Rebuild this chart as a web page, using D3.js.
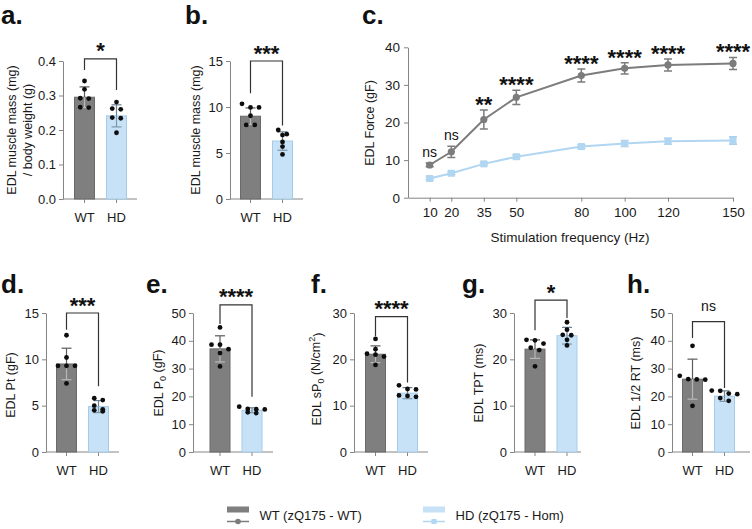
<!DOCTYPE html>
<html><head><meta charset="utf-8">
<script src="https://cdn.jsdelivr.net/npm/d3@7"></script>
<style>body{margin:0;background:#fff} text{font-family:"Liberation Sans",Arial,Helvetica,sans-serif}</style>
</head><body><svg id="chart" width="752" height="529"></svg>
<script>
// ---------------- DATA ----------------
const categories = ["WT", "HD"];
const legendLabels = ["WT (zQ175 - WT)", "HD (zQ175 - Hom)"];

// a. EDL muscle mass / body weight
const aMeans = [0.295, 0.241];
const aErr = [0.030, 0.032];
const aWT = [0.342, 0.318, 0.292, 0.291, 0.266, 0.265];
const aHD = [0.281, 0.262, 0.260, 0.236, 0.234, 0.192];
const aTicks = [0, 0.1, 0.2, 0.3, 0.4];
const aSig = "*";
const aBracket = [0.406, 0.374, 0.316];

// b. EDL muscle mass
const bMeans = [9.0, 6.3];
const bErr = [0.9, 1.0];
const bWT = [10.35, 9.95, 9.95, 9.05, 8.05, 8.05];
const bHD = [7.5, 7.05, 6.95, 6.2, 5.7, 4.85];
const bTicks = [0, 5, 10, 15];
const bSig = "***";
const bBracket = [15.0, 11.5, 8.0];

// c. force-frequency
const freqs = [10, 20, 35, 50, 80, 100, 120, 150];
const forceWT = [8.7, 12.2, 20.8, 26.7, 32.5, 34.4, 35.3, 35.7];
const forceWTErr = [0.5, 1.5, 2.5, 1.9, 1.7, 1.5, 1.6, 1.6];
const forceHD = [5.1, 6.5, 9.0, 10.9, 13.6, 14.4, 15.0, 15.2];
const forceHDErr = [0.4, 0.4, 0.4, 0.5, 0.5, 0.8, 0.8, 1.0];
const forceSig = ["ns", "ns", "**", "****", "****", "****", "****", "****"];
const forceTicks = [0, 10, 20, 30, 40];

// d. Pt
const dMeans = [9.5, 4.9];
const dErr = [1.7, 0.65];
const dWT = [12.6, 10.2, 9.3, 9.3, 9.3, 7.4];
const dHD = [5.8, 5.6, 5.0, 4.6, 4.5, 4.4];
const dTicks = [0, 5, 10, 15];
const dSig = "***";
const dBracket = [15.0, 13.2, 7.1];

// e. P0
const eMeans = [37.1, 15.0];
const eErr = [4.7, 0.9];
const eWT = [44.8, 38.6, 38.6, 37.0, 35.6, 30.8];
const eHD = [16.3, 15.5, 15.4, 15.3, 14.3, 14.0];
const eTicks = [0, 10, 20, 30, 40, 50];
const eSig = "****";
const eBracket = [52.9, 46.0, 19.9];

// f. sP0
const fMeans = [21.1, 12.7];
const fErr = [1.8, 1.2];
const fWT = [24.4, 22.2, 21.2, 21.0, 20.6, 18.8];
const fHD = [14.4, 13.6, 13.5, 12.2, 12.1, 11.9];
const fTicks = [0, 10, 20, 30];
const fSig = "****";
const fBracket = [29.2, 25.0, 15.0];

// g. TPT
const gMeans = [22.2, 25.1];
const gErr = [2.0, 1.8];
const gWT = [24.2, 24.1, 23.4, 22.5, 22.0, 18.5];
const gHD = [28.0, 26.4, 25.3, 25.2, 24.2, 23.0];
const gTicks = [0, 10, 20, 30];
const gSig = "*";
const gBracket = [32.8, 26.3, 28.9];

// h. 1/2 RT
const hMeans = [26.2, 20.1];
const hErr = [7.2, 1.9];
const hWT = [38.2, 27.4, 26.2, 26.1, 26.0, 16.6];
const hHD = [22.1, 22.0, 21.0, 20.8, 19.4, 18.4];
const hTicks = [0, 10, 20, 30, 40, 50];
const hSig = "ns";
const hBracket = [46.9, 41.0, 23.0];

// ---------------- STYLE ----------------
const C = {
  wtFill: "#7f7f7f", wtStroke: "#6a6a6a",
  hdFill: "#c7e2f7", hdStroke: "#a6cbe8",
  wtLine: "#7c7c7c", hdLine: "#b1d6f1",
  axis: "#858585", text: "#1a1a1a", bracket: "#333"
};
const svg = d3.select("#chart");

function panelTitle(t, x, y, size) {
  svg.append("text").attr("x", x).attr("y", y).attr("font-size", size).attr("font-weight", "bold")
    .attr("fill", "#111").text(t);
}
function yLabel(parts, cx, cy, size) {
  const t = svg.append("text").attr("transform", `translate(${cx},${cy}) rotate(-90)`)
    .attr("text-anchor", "middle").attr("dy", "0.36em").attr("font-size", size || 12.5).attr("fill", C.text);
  parts.forEach(p => {
    const ts = t.append("tspan").text(p.t);
    if (p.sub) ts.attr("font-size", 9).attr("dy", "0.35em");
    if (p.sup) ts.attr("font-size", 9).attr("dy", "-0.5em");
    if (p.after) ts.attr("dy", p.after);
  });
}
function sigText(g, txt, x, yBase) {
  const isStar = txt.indexOf("*") >= 0;
  g.append("text").attr("x", x).attr("y", isStar ? yBase + 0.5 : yBase - 10)
    .attr("text-anchor", "middle").attr("font-size", isStar ? 22 : 14)
    .attr("font-weight", isStar ? "bold" : "normal").attr("fill", "#111").text(txt);
}
function swarm(vals, y, cx) {
  const sorted = vals.slice().sort((a, b) => b - a);
  const rows = [];
  sorted.forEach(v => {
    const py = y(v);
    const r = rows.find(r => Math.abs(r.py - py) < 4.5);
    if (r) r.items.push(v); else rows.push({ py, items: [v] });
  });
  const out = [];
  rows.forEach(r => r.items.forEach((v, i) => out.push({ x: cx + (i - (r.items.length - 1) / 2) * 8.5, y: y(v) })));
  return out;
}

function barPanel(L, D) {
  const g = svg.append("g");
  const y = d3.scaleLinear().domain([0, D.ticks[D.ticks.length - 1]]).range([L.yb, L.yt]);
  const x = d3.scaleBand().domain(categories).range([L.bs, L.bs + 53]).paddingInner(11 / 32).paddingOuter(0);
  const bw = x.bandwidth();
  const ya = g.append("g").attr("transform", `translate(${L.x0},0)`)
    .call(d3.axisLeft(y).tickValues(D.ticks).tickSize(4).tickSizeOuter(0).tickPadding(3).tickFormat(D.fmt || d3.format("d")));
  ya.selectAll("path,line").attr("stroke", C.axis);
  ya.selectAll("text").attr("font-size", 13).attr("fill", C.text).style("font-family", "Liberation Sans, Arial");
  const xa = g.append("g").attr("transform", `translate(0,${L.yb})`)
    .call(d3.axisBottom(x).tickSize(4).tickSizeOuter(0).tickPadding(9.5));
  xa.select(".domain").remove();
  xa.selectAll("line").attr("stroke", C.axis);
  xa.selectAll("text").attr("font-size", 13).attr("fill", C.text).style("font-family", "Liberation Sans, Arial");
  g.append("line").attr("x1", L.x0).attr("x2", L.x1).attr("y1", L.yb).attr("y2", L.yb).attr("stroke", C.axis);
  categories.forEach((c, i) => {
    g.append("rect").attr("x", x(c) + 0.5).attr("y", y(D.means[i])).attr("width", bw - 1)
      .attr("height", L.yb - y(D.means[i]))
      .attr("fill", i === 0 ? C.wtFill : C.hdFill).attr("stroke", i === 0 ? C.wtStroke : C.hdStroke).attr("stroke-width", 1);
  });
  categories.forEach((c, i) => {
    const cx = x(c) + bw / 2;
    const top = y(D.means[i] + D.errs[i]), mid = y(D.means[i]), bot = y(D.means[i] - D.errs[i]);
    const upCol = i === 0 ? "#5a5a5a" : "#6a7f90";
    const dnCol = i === 0 ? "#b8b8b8" : "#7f96a8";
    g.append("line").attr("x1", cx).attr("x2", cx).attr("y1", top).attr("y2", mid).attr("stroke", upCol).attr("stroke-width", 1.2);
    g.append("line").attr("x1", cx - 5).attr("x2", cx + 5).attr("y1", top).attr("y2", top).attr("stroke", upCol).attr("stroke-width", 1.2);
    g.append("line").attr("x1", cx).attr("x2", cx).attr("y1", mid).attr("y2", bot).attr("stroke", dnCol).attr("stroke-width", 1.2);
    g.append("line").attr("x1", cx - 5).attr("x2", cx + 5).attr("y1", bot).attr("y2", bot).attr("stroke", dnCol).attr("stroke-width", 1.2);
  });
  D.pts.forEach((arr, i) => {
    const cx = x(categories[i]) + bw / 2;
    swarm(arr, y, cx).forEach(p => g.append("circle").attr("cx", p.x).attr("cy", p.y).attr("r", 2.4).attr("fill", "#0d0d0d"));
  });
  const xw = x("WT") + bw / 2, xh = x("HD") + bw / 2;
  g.append("path").attr("d", `M${xw},${y(D.bracket[1])}V${y(D.bracket[0])}H${xh}V${y(D.bracket[2])}`)
    .attr("fill", "none").attr("stroke", C.bracket).attr("stroke-width", 1.2);
  sigText(g, D.sig, (xw + xh) / 2, y(D.bracket[0]) - 1);
}

// ---------------- PANELS ----------------
panelTitle("a.", 1, 23.5, 26);
barPanel({ x0: 63, x1: 137, bs: 74, yt: 61, yb: 199 },
  { means: aMeans, errs: aErr, pts: [aWT, aHD], ticks: aTicks, fmt: d3.format(".1f"), sig: aSig, bracket: aBracket });
yLabel([{ t: "EDL muscle mass (mg)" }], 11, 130);
yLabel([{ t: "/ body weight (g)" }], 27, 130);

panelTitle("b.", 185, 23.5, 26);
barPanel({ x0: 230, x1: 303, bs: 240, yt: 61, yb: 199 },
  { means: bMeans, errs: bErr, pts: [bWT, bHD], ticks: bTicks, sig: bSig, bracket: bBracket });
yLabel([{ t: "EDL muscle mass (mg)" }], 195, 130);

panelTitle("d.", 1, 293, 26);
barPanel({ x0: 46, x1: 119, bs: 56, yt: 313, yb: 452 },
  { means: dMeans, errs: dErr, pts: [dWT, dHD], ticks: dTicks, sig: dSig, bracket: dBracket });
yLabel([{ t: "EDL Pt (gF)" }], 10, 385);

panelTitle("e.", 146, 293, 26);
barPanel({ x0: 193, x1: 273, bs: 209.5, yt: 313, yb: 452 },
  { means: eMeans, errs: eErr, pts: [eWT, eHD], ticks: eTicks, sig: eSig, bracket: eBracket });
yLabel([{ t: "EDL P" }, { t: "0", sub: true }, { t: " (gF)", after: "-0.3em" }], 158, 383);

panelTitle("f.", 311, 293, 26);
barPanel({ x0: 354, x1: 428, bs: 365, yt: 313, yb: 452 },
  { means: fMeans, errs: fErr, pts: [fWT, fHD], ticks: fTicks, sig: fSig, bracket: fBracket });
yLabel([{ t: "EDL sP" }, { t: "0", sub: true }, { t: " (N/cm", after: "-0.3em" }, { t: "2", sup: true }, { t: ")", after: "0.5em" }], 316, 379);

panelTitle("g.", 462, 293, 26);
barPanel({ x0: 514, x1: 581, bs: 524.5, yt: 313, yb: 452 },
  { means: gMeans, errs: gErr, pts: [gWT, gHD], ticks: gTicks, sig: gSig, bracket: gBracket });
yLabel([{ t: "EDL TPT (ms)" }], 478, 383);

panelTitle("h.", 627, 293, 26);
barPanel({ x0: 672, x1: 750, bs: 682, yt: 313, yb: 452 },
  { means: hMeans, errs: hErr, pts: [hWT, hHD], ticks: hTicks, sig: hSig, bracket: hBracket });
yLabel([{ t: "EDL 1/2 RT (ms)" }], 635, 383);

// ---------------- PANEL C ----------------
panelTitle("c.", 362, 23.5, 26);
(function () {
  const g = svg.append("g");
  const x = d3.scaleLinear().domain([0, 150]).range([408, 733]);
  const y = d3.scaleLinear().domain([0, 40]).range([197.7, 47.3]);
  const ya = g.append("g").attr("transform", "translate(408,0)")
    .call(d3.axisLeft(y).tickValues(forceTicks).tickSize(4).tickSizeOuter(0).tickPadding(4));
  ya.selectAll("path,line").attr("stroke", C.axis);
  ya.selectAll("text").attr("font-size", 13.5).attr("fill", C.text).style("font-family", "Liberation Sans, Arial");
  const xa = g.append("g").attr("transform", "translate(0,197.7)")
    .call(d3.axisBottom(x).tickValues(freqs).tickSize(4).tickSizeOuter(0).tickPadding(6));
  xa.selectAll("path,line").attr("stroke", C.axis);
  xa.selectAll("text").attr("font-size", 13.5).attr("fill", C.text).style("font-family", "Liberation Sans, Arial");
  g.append("text").attr("x", 570).attr("y", 242).attr("text-anchor", "middle").attr("font-size", 13.5)
    .attr("fill", C.text).text("Stimulation frequency (Hz)");
  yLabel([{ t: "EDL Force (gF)" }], 369, 123);

  const line = d3.line().x((d, i) => x(freqs[i])).y(d => y(d));
  g.append("path").datum(forceHD).attr("d", line).attr("fill", "none").attr("stroke", C.hdLine).attr("stroke-width", 2);
  forceHD.forEach((v, i) => {
    const cx = x(freqs[i]);
    g.append("path").attr("d", `M${cx - 4},${y(v + forceHDErr[i])}H${cx + 4}M${cx},${y(v + forceHDErr[i])}V${y(v - forceHDErr[i])}M${cx - 4},${y(v - forceHDErr[i])}H${cx + 4}`)
      .attr("stroke", "#a9d0ee").attr("stroke-width", 1.5).attr("fill", "none");
    g.append("rect").attr("x", cx - 3.5).attr("y", y(v) - 3.5).attr("width", 7).attr("height", 7).attr("fill", C.hdLine);
  });
  g.append("path").datum(forceWT).attr("d", line).attr("fill", "none").attr("stroke", C.wtLine).attr("stroke-width", 2);
  forceWT.forEach((v, i) => {
    const cx = x(freqs[i]);
    g.append("path").attr("d", `M${cx - 4},${y(v + forceWTErr[i])}H${cx + 4}M${cx},${y(v + forceWTErr[i])}V${y(v - forceWTErr[i])}M${cx - 4},${y(v - forceWTErr[i])}H${cx + 4}`)
      .attr("stroke", C.wtLine).attr("stroke-width", 1.5).attr("fill", "none");
    g.append("circle").attr("cx", cx).attr("cy", y(v)).attr("r", 3.6).attr("fill", C.wtLine);
    const top = y(v + forceWTErr[i]) - 10;
    const s = forceSig[i];
    if (s.indexOf("*") >= 0) {
      g.append("text").attr("x", cx).attr("y", top + 12).attr("text-anchor", "middle").attr("font-size", 22)
        .attr("font-weight", "bold").attr("fill", "#111").text(s);
    } else {
      g.append("text").attr("x", cx).attr("y", top + 3.8).attr("text-anchor", "middle").attr("font-size", 14)
        .attr("fill", "#111").text(s);
    }
  });
})();

// ---------------- LEGEND ----------------
(function () {
  const g = svg.append("g");
  const items = [
    { x: 227, fill: C.wtFill, line: C.wtLine, shape: "circle" },
    { x: 423, fill: C.hdFill, line: C.hdLine, shape: "square" }
  ];
  items.forEach((it, i) => {
    g.append("rect").attr("x", it.x).attr("y", 506.5).attr("width", 22).attr("height", 6).attr("fill", it.fill);
    g.append("line").attr("x1", it.x).attr("x2", it.x + 22).attr("y1", 521.5).attr("y2", 521.5).attr("stroke", it.line).attr("stroke-width", 1.5);
    if (it.shape === "circle") g.append("circle").attr("cx", it.x + 11).attr("cy", 521.5).attr("r", 2.8).attr("fill", it.line);
    else g.append("rect").attr("x", it.x + 8.5).attr("y", 519).attr("width", 5).attr("height", 5).attr("fill", it.line);
    g.append("text").attr("x", it.x + 32.5).attr("y", 519.5).attr("font-size", 13).attr("fill", C.text).text(legendLabels[i]);
  });
})();
</script></body></html>
